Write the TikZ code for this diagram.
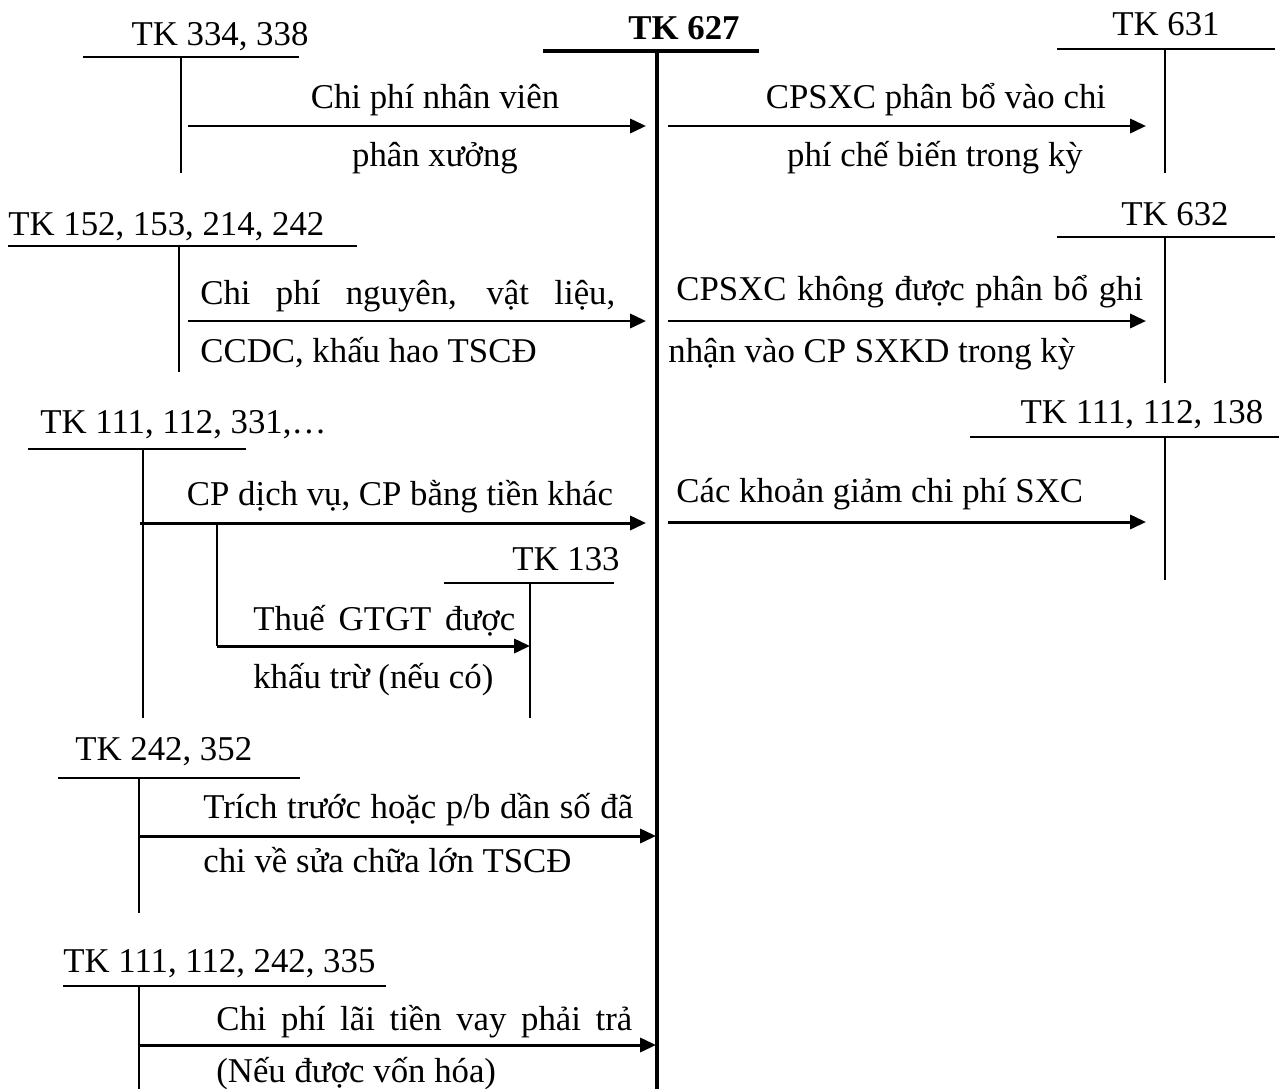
\documentclass[tikz,border=0pt]{standalone}
\usepackage{fontspec}
\setmainfont{Liberation Serif}
\usetikzlibrary{arrows.meta}
\newcommand{\jtext}[2]{\makebox[#1][s]{#2}}

\begin{document}
\begin{tikzpicture}[x=0.02cm, y=-0.02cm,
    lbl/.style={font=\fontsize{19.8}{23}\selectfont, inner sep=0pt},
    tline/.style={line width=1.2pt},
    main/.style={line width=2.3pt},
    flow/.style={line width=1.7pt, -{Triangle[length=9pt,width=8pt]}},
  ]
  \useasboundingbox (0,0) rectangle (1279,1089);

  % ---- Central account TK 627 ----
  \node[lbl, anchor=base, font=\fontsize{19.8}{23}\selectfont\bfseries] (tk627) at (684, 39) {TK 627};
  \coordinate (c627l) at (543, 51);
  \coordinate (c627r) at (759, 51);
  \coordinate (c627t) at (657, 51);
  \coordinate (c627b) at (657, 1089);
  \draw[main] (c627l) -- (c627r);
  \draw[main] (c627t) -- (c627b);

  % ---- Left: TK 334, 338 ----
  \node[lbl, anchor=base] (tk334) at (220, 45) {TK 334, 338};
  \coordinate (t334) at (181, 57);
  \draw[tline] (83, 57) -- (299, 57);
  \draw[tline] (t334) -- (181, 173);
  \coordinate (s334) at (188, 126);
  \coordinate (e334) at (646, 126);
  \draw[flow] (s334) -- (e334);
  \node[lbl, anchor=base] (f334a) at (435, 108) {Chi phí nhân viên};
  \node[lbl, anchor=base] (f334b) at (435, 166) {phân xưởng};

  % ---- Left: TK 152, 153, 214, 242 ----
  \node[lbl, anchor=base west] (tk152) at (8, 235) {TK 152, 153, 214, 242};
  \draw[tline] (8, 246) -- (357, 246);
  \draw[tline] (179, 246) -- (179, 372);
  \coordinate (s152) at (188, 321);
  \coordinate (e152) at (646, 321);
  \draw[flow] (s152) -- (e152);
  \node[lbl, anchor=base west] (f152a) at (200, 304) {\jtext{8.30cm}{Chi phí nguyên, vật liệu,}};
  \node[lbl, anchor=base west] (f152b) at (200, 362) {CCDC, khấu hao TSCĐ};

  % ---- Left: TK 111, 112, 331,... with branch to TK 133 ----
  \node[lbl, anchor=base west] (tk111a) at (40, 433) {TK 111, 112, 331,…};
  \draw[tline] (28, 449) -- (246, 449);
  \draw[tline] (143, 449) -- (143, 718);
  \coordinate (s111a) at (140, 523);
  \coordinate (e111a) at (646, 523);
  \draw[flow] (s111a) -- (e111a);
  \node[lbl, anchor=base] (f111a) at (400, 505) {CP dịch vụ, CP bằng tiền khác};
  % branch -> TK 133
  \node[lbl, anchor=base] (tk133) at (566, 570) {TK 133};
  \draw[tline] (444, 583) -- (614, 583);
  \draw[tline] (530, 583) -- (530, 718);
  \coordinate (b133) at (217, 523);
  \coordinate (k133) at (217, 646);
  \coordinate (e133) at (530, 646);
  \draw[tline] (b133) -- (k133);
  \draw[flow] (k133) -- (e133);
  \node[lbl, anchor=base west] (f133a) at (253, 630) {\jtext{5.24cm}{Thuế GTGT được}};
  \node[lbl, anchor=base west] (f133b) at (253, 688) {khấu trừ (nếu có)};

  % ---- Left: TK 242, 352 ----
  \node[lbl, anchor=base west] (tk242) at (75, 760) {TK 242, 352};
  \draw[tline] (58, 778) -- (300, 778);
  \draw[tline] (139, 778) -- (139, 913);
  \coordinate (s242) at (139, 836);
  \coordinate (e242) at (656, 836);
  \draw[flow] (s242) -- (e242);
  \node[lbl, anchor=base west] (f242a) at (203, 818) {\jtext{8.60cm}{Trích trước hoặc p/b dần số đã}};
  \node[lbl, anchor=base west] (f242b) at (203, 872) {chi về sửa chữa lớn TSCĐ};

  % ---- Left: TK 111, 112, 242, 335 ----
  \node[lbl, anchor=base west] (tk335) at (63, 972) {TK 111, 112, 242, 335};
  \draw[tline] (63, 986) -- (386, 986);
  \draw[tline] (139, 986) -- (139, 1089);
  \coordinate (s335) at (139, 1045);
  \coordinate (e335) at (656, 1045);
  \draw[flow] (s335) -- (e335);
  \node[lbl, anchor=base west] (f335a) at (216, 1030) {\jtext{8.32cm}{Chi phí lãi tiền vay phải trả}};
  \node[lbl, anchor=base west] (f335b) at (216, 1082) {(Nếu được vốn hóa)};

  % ---- Right: TK 631 ----
  \node[lbl, anchor=base] (tk631) at (1166, 35) {TK 631};
  \draw[tline] (1057, 49) -- (1275, 49);
  \draw[tline] (1165, 49) -- (1165, 173);
  \coordinate (s631) at (668, 126);
  \coordinate (e631) at (1146, 126);
  \draw[flow] (s631) -- (e631);
  \node[lbl, anchor=base] (f631a) at (936, 108) {CPSXC phân bổ vào chi};
  \node[lbl, anchor=base] (f631b) at (935, 166) {phí chế biến trong kỳ};

  % ---- Right: TK 632 ----
  \node[lbl, anchor=base] (tk632) at (1175, 225) {TK 632};
  \draw[tline] (1057, 237) -- (1275, 237);
  \draw[tline] (1165, 237) -- (1165, 383);
  \coordinate (s632) at (668, 321);
  \coordinate (e632) at (1146, 321);
  \draw[flow] (s632) -- (e632);
  \node[lbl, anchor=base west] (f632a) at (676, 300) {\jtext{9.34cm}{CPSXC không được phân bổ ghi}};
  \node[lbl, anchor=base west] (f632b) at (668, 362) {nhận vào CP SXKD trong kỳ};

  % ---- Right: TK 111, 112, 138 ----
  \node[lbl, anchor=base] (tk138) at (1142, 423) {TK 111, 112, 138};
  \draw[tline] (970, 437) -- (1279, 437);
  \draw[tline] (1165, 437) -- (1165, 580);
  \coordinate (s138) at (668, 522);
  \coordinate (e138) at (1146, 522);
  \draw[flow] (s138) -- (e138);
  \node[lbl, anchor=base west] (f138) at (676, 502) {Các khoản giảm chi phí SXC};

\end{tikzpicture}
\end{document}
